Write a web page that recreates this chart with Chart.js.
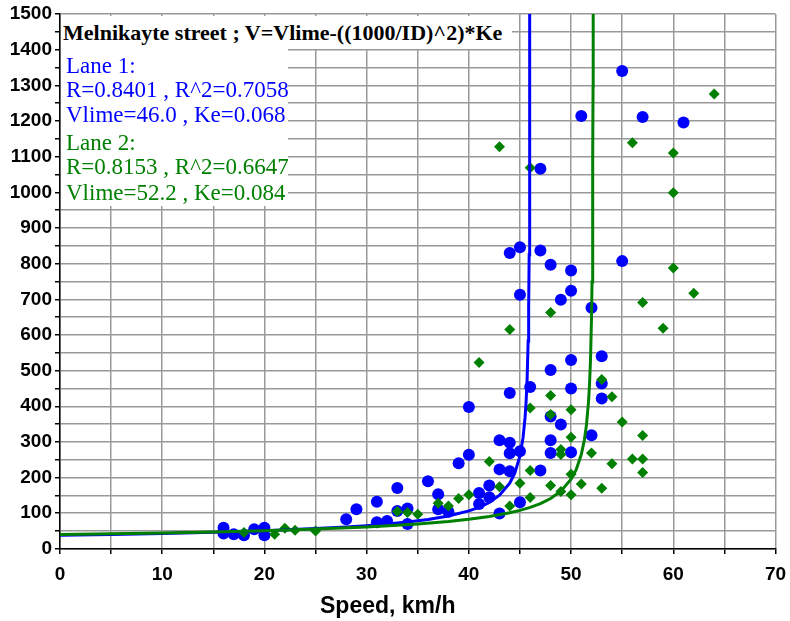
<!DOCTYPE html>
<html lang="en">
<head>
<meta charset="UTF-8">
<title>Melnikayte street</title>
<script src="https://cdn.jsdelivr.net/npm/chart.js"></script>
<style>
    body {
        margin: 0;
        background: #fff;
    }

    #wrap {
        position: relative;
        width: 790px;
        height: 621px;
    }

    .box {
        position: absolute;
        background: #fff;
        font-family: "Liberation Serif", "Times New Roman", serif;
        color: #000;
    }

    #titleBox {
        left: 61px;
        top: 16px;
        width: 449px;
        height: 33px;
        font-weight: bold;
        font-size: 22px;
        line-height: 34px;
        padding-left: 2px;
        white-space: nowrap;
    }

    #laneBox {
        left: 61px;
        top: 49px;
        width: 227px;
        height: 157px;
        font-size: 23px;
    }

    #laneBox div {
        position: absolute;
        left: 5px;
        line-height: 24px;
        white-space: nowrap;
    }

    .lane1 { color: #0000ff; }
    .lane2 { color: #008000; }
</style>
</head>
<body>
<div id="wrap">
    <canvas id="chart" width="790" height="621"></canvas>
    <div class="box" id="titleBox">Melnikayte street ; V=Vlime-((1000/ID)^2)*Ke</div>
    <div class="box" id="laneBox">
        <div class="lane1" style="top:5px">Lane 1:</div>
        <div class="lane1" style="top:29px">R=0.8401 , R^2=0.7058</div>
        <div class="lane1" style="top:54px">Vlime=46.0 , Ke=0.068</div>
        <div class="lane2" style="top:82px">Lane 2:</div>
        <div class="lane2" style="top:106px">R=0.8153 , R^2=0.6647</div>
        <div class="lane2" style="top:132px">Vlime=52.2 , Ke=0.084</div>
    </div>
</div>
<script>
    // measured points, lane 1 (blue circles)
    const lane1Speed = [16, 16, 17, 18, 19, 20, 20, 28, 29, 31, 31, 32, 33, 33, 34, 34, 36, 37, 37, 38, 39, 40, 40,
        41, 41, 42, 42, 43, 43, 43, 44, 44, 44, 44, 44, 45, 45, 45, 45, 46, 47, 47, 47,
        48, 48, 48, 48, 48, 49, 49, 50, 50, 50, 50, 50, 51, 52, 52, 53, 53, 53, 55, 55, 57, 61];
    const lane1Density = [59, 43, 41, 38, 55, 59, 38, 83, 111, 132, 75, 78, 171, 106, 113, 70, 190, 153, 111, 104, 240, 398, 264,
        157, 126, 178, 145, 305, 223, 99, 830, 437, 298, 268, 218, 846, 713, 274, 131, 454, 1066, 837, 220,
        797, 502, 371, 305, 269, 699, 349, 781, 724, 530, 450, 271, 1214, 676, 319, 540, 464, 422, 1340, 807, 1211, 1196];

    // measured points, lane 2 (green diamonds)
    const lane2Speed = [18, 21, 22, 23, 25, 33, 34, 35, 37, 38, 39, 40, 41, 42, 43, 43, 44, 44, 45,
        46, 46, 46, 46, 48, 48, 48, 48, 49, 49, 49, 50, 50, 50, 50, 51, 52, 53, 53, 54, 54, 55,
        56, 56, 57, 57, 57, 57, 59, 60, 60, 60, 62, 64];
    const lane2Density = [46, 41, 58, 52, 50, 105, 102, 97, 128, 120, 141, 152, 523, 245, 1128, 174, 615, 120, 184,
        1069, 395, 220, 144, 663, 430, 377, 178, 279, 265, 161, 390, 313, 209, 152, 182, 269, 475, 170, 427, 239, 356,
        1139, 252, 691, 318, 252, 214, 619, 1110, 999, 788, 717, 1276];

    // fitted curves
    const curve1Speed = [0, 5, 10, 15, 20, 25, 28, 30, 32, 34, 36, 38, 40, 41, 42, 43, 44, 44.5, 45, 45.3, 45.5,
        45.6, 45.7, 45.8, 45.85, 45.9, 45.93, 45.95, 45.97];
    const curve1Density = [38.4, 40.7, 43.5, 46.8, 51.1, 56.9, 61.5, 65.2, 69.7, 75.3, 82.5, 92.2, 106.5, 116.6, 130.4,
        150.6, 184.4, 212.9, 260.8, 311.7, 368.8, 412.3, 476.1, 583.1, 673.3, 824.6, 985.6, 1166.2, 1505.5];
    const curve2Speed = [0, 5, 10, 15, 20, 25, 30, 33, 35, 38, 40, 42, 44, 45, 46, 47, 48, 49, 50, 50.5, 51, 51.3,
        51.5, 51.7, 51.8, 51.9, 52.0, 52.05, 52.1, 52.13, 52.15, 52.165];
    const curve2Density = [40.1, 42.2, 44.6, 47.5, 51.1, 55.6, 61.5, 66.1, 69.9, 76.9, 83.0, 90.7, 101.2, 108.0, 116.4,
        127.1, 141.4, 162.0, 195.4, 222.3, 264.6, 305.5, 346.4, 409.9, 458.3, 529.2, 648.1, 748.3, 916.5, 1095.4,
        1296.1, 1549.2];

    const xTickLabels = [0, 10, 20, 30, 40, 50, 60, 70];
    const yTickLabels = [0, 100, 200, 300, 400, 500, 600, 700, 800, 900, 1000, 1100, 1200, 1300, 1400, 1500];

    function pairs(xs, ys) {
        return xs.map((x, i) => ({ x: x, y: ys[i] }));
    }

    const tickFont = { family: '"Liberation Sans", Arial, sans-serif', size: 19, weight: 'bold' };

    new Chart(document.getElementById('chart'), {
        type: 'scatter',
        data: {
            datasets: [
                {
                    label: 'Lane 2 fit',
                    data: pairs(curve2Speed, curve2Density),
                    showLine: true,
                    borderColor: '#008000',
                    borderWidth: 3,
                    pointRadius: 0,
                    tension: 0
                },
                {
                    label: 'Lane 1 fit',
                    data: pairs(curve1Speed, curve1Density),
                    showLine: true,
                    borderColor: '#0000ff',
                    borderWidth: 3,
                    pointRadius: 0,
                    tension: 0
                },
                {
                    label: 'Lane 2',
                    data: pairs(lane2Speed, lane2Density),
                    pointStyle: 'rectRot',
                    pointRadius: 5.5,
                    backgroundColor: '#008000',
                    borderColor: '#008000',
                    borderWidth: 0
                },
                {
                    label: 'Lane 1',
                    data: pairs(lane1Speed, lane1Density),
                    pointStyle: 'circle',
                    pointRadius: 6,
                    backgroundColor: '#0000ff',
                    borderColor: '#0000ff',
                    borderWidth: 0
                }
            ]
        },
        options: {
            responsive: false,
            animation: false,
            layout: { padding: { top: 14, right: 14.5, left: 0, bottom: 0 } },
            plugins: {
                legend: { display: false },
                tooltip: { enabled: false },
                title: {
                    display: true,
                    position: 'bottom',
                    text: 'Speed, km/h',
                    color: '#000',
                    font: { family: '"Liberation Sans", Arial, sans-serif', size: 23, weight: 'bold' },
                    padding: { top: 0, bottom: 1 }
                }
            },
            scales: {
                x: {
                    type: 'linear',
                    min: 0,
                    max: 70,
                    afterFit: s => {
                        s.height = 43.5;
                        s.paddingLeft = 0;
                        s.paddingRight = 0;
                    },
                    ticks: {
                        stepSize: 5,
                        autoSkip: false,
                        maxRotation: 0,
                        padding: 9,
                        color: '#000',
                        font: tickFont,
                        callback: v => xTickLabels.includes(v) ? v : ''
                    },
                    grid: { color: '#999999', lineWidth: 1.5, tickLength: 5, tickColor: '#000' },
                    border: { color: '#000', width: 1.5 }
                },
                y: {
                    min: 0,
                    max: 1500,
                    afterFit: s => {
                        s.width = 60;
                        s.paddingTop = 0;
                        s.paddingBottom = 0;
                    },
                    ticks: {
                        stepSize: 50,
                        autoSkip: false,
                        padding: 3,
                        color: '#000',
                        font: tickFont,
                        callback: v => yTickLabels.includes(v) ? v : ''
                    },
                    grid: { color: '#999999', lineWidth: 1.5, tickLength: 5, tickColor: '#000' },
                    border: { color: '#000', width: 1.5 }
                }
            }
        }
    });
</script>
</body>
</html>
